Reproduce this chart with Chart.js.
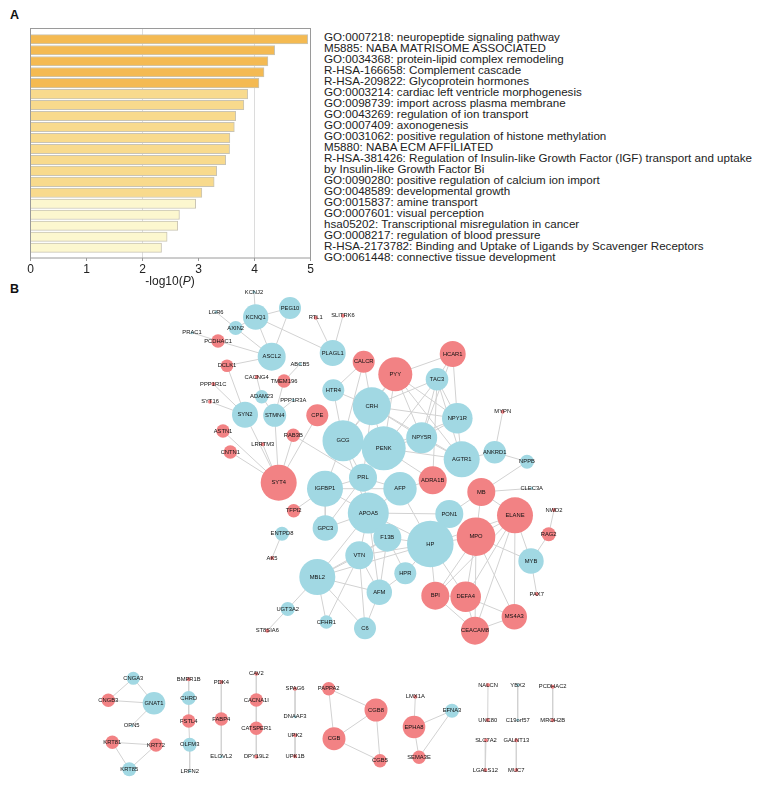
<!DOCTYPE html>
<html>
<head>
<meta charset="utf-8">
<title>Enrichment and network</title>
<script src="https://cdn.jsdelivr.net/npm/chart.js@4"></script>
<style>
html, body { margin: 0; padding: 0; background: #fff; }
body { position: relative; width: 767px; height: 792px; overflow: hidden; font-family: "Liberation Sans", Arial, sans-serif; color: #222; }
canvas { position: absolute; }
#barChart { left: 0; top: 0; }
#netChart { left: 0; top: 280px; }
.panel { position: absolute; left: 10px; font-weight: bold; font-size: 12.5px; color: #111; }
#terms { position: absolute; left: 324px; top: 30.7px; font-size: 11.6px; line-height: 11px; white-space: pre; color: #222; }
#xTitle { position: absolute; left: 110px; width: 120px; top: 274px; text-align: center; font-size: 12px; }
</style>
</head>
<body>
<div class="panel" style="top:8px">A</div>
<div class="panel" style="top:282px">B</div>
<canvas id="barChart" width="320" height="280"></canvas>
<div id="xTitle">-log10(<i>P</i>)</div>
<div id="terms"></div>
<canvas id="netChart" width="767" height="512"></canvas>
<script>
// panel A: enrichment terms
var terms = [
    'GO:0007218: neuropeptide signaling pathway',
    'M5885: NABA MATRISOME ASSOCIATED',
    'GO:0034368: protein-lipid complex remodeling',
    'R-HSA-166658: Complement cascade',
    'R-HSA-209822: Glycoprotein hormones',
    'GO:0003214: cardiac left ventricle morphogenesis',
    'GO:0098739: import across plasma membrane',
    'GO:0043269: regulation of ion transport',
    'GO:0007409: axonogenesis',
    'GO:0031062: positive regulation of histone methylation',
    'M5880: NABA ECM AFFILIATED',
    'R-HSA-381426: Regulation of Insulin-like Growth Factor (IGF) transport and uptake\nby Insulin-like Growth Factor Bi',
    'GO:0090280: positive regulation of calcium ion import',
    'GO:0048589: developmental growth',
    'GO:0015837: amine transport',
    'GO:0007601: visual perception',
    'hsa05202: Transcriptional misregulation in cancer',
    'GO:0008217: regulation of blood pressure',
    'R-HSA-2173782: Binding and Uptake of Ligands by Scavenger Receptors',
    'GO:0061448: connective tissue development'
];
var logP = [4.95, 4.36, 4.24, 4.17, 4.08, 3.88, 3.81, 3.665, 3.64, 3.56,
            3.555, 3.485, 3.325, 3.28, 3.06, 2.95, 2.66, 2.63, 2.44, 2.34];

// panel B: network nodes, in the same order in every list
var nodeNames = [
    'KCNJ2','KCNQ1','PEG10','LGR6','AXIN2','PRAC1','PCDHAC1','ASCL2','RTL1','SLITRK6','PLAGL1','DCLK1',
    'CACNG4','ABCB5','TMEM196','CALCR','PYY','HTR4','PPP1R1C','ADAM23','PPP1R3A','SYT16','SYN2','STMN4',
    'CPE','CRH','ASTN1','RAB3B','GCG','PENK','CNTN1','LRRTM3','SYT4','HCAR1','TAC3','NPY1R',
    'NPY5R','MYPN','ANKRD1','AGTR1','NPPB','ADRA1B','AFP','MB','CLEC3A','ELANE','PON1','NWD2',
    'IGFBP1','PRL','APOA5','TFPI2','GPC3','ENTPD8','F13B','HP','MPO','RAG2','AK5','VTN',
    'MYB','HPR','MBL2','PAX7','AFM','BPI','DEFA4','UGT3A2','MS4A3','CFHR1','C6','CEACAM8',
    'ST8SIA6','CNGA3','GNAT1','CNGB3','OPN5','KRT81','KRT72','KRT85','BMPR1B','CHRD','FSTL4','OLFM3',
    'LRFN2','PDK4','FABP4','ELOVL2','CAV2','CACNA1I','CATSPER1','DPY19L2','SPAG6','DNAAF3','UPK2','UPK1B',
    'PAPPA2','CGB8','CGB','CGB5','LMX1A','EFNA3','EPHA8','SEMA3E','NALCN','UNC80','YBX2','C19orf57',
    'PCDHAC2','MROH2B','SLC7A2','LGALS12','GALNT13','MUC7'
];
var nodeX = [
    254,255.7,290,216,235.7,192,218,271.7,315.7,343,332.7,227,
    256.7,300,284,363.7,395.3,333.3,213.3,261.7,293.3,210,245,274.7,
    317.3,371.7,223,293.3,343,383.7,230.3,262.7,278.7,452.7,437,457.3,
    421.7,502.7,494.7,461.7,527,432.7,400,481.3,531.7,515,449.3,554,
    325,363,368.3,293.7,325.3,282,387.3,430.3,476,548.7,272,359.3,
    531,405.3,317.3,536.7,379.3,435.3,465.7,287.7,514.3,326.3,365,475,
    267.3,133.3,154,108.3,131.7,112.3,156,129.3,188.7,188.7,188.7,189.7,
    189.7,221.3,221.3,221.3,256.3,256.3,256.3,256.3,295,295,295,295,
    328.7,376,334,380,415.3,452,414,419,488,487.7,517.7,517.7,
    552.7,552.7,486,485.3,516.3,516.3
];
var nodeY = [
    292,317,308,312,328,332.7,341,356.7,317.7,315.7,353,365.7,
    377,364,381,361.7,374.3,390.3,384,396.7,400,401.7,414.7,415.3,
    415.3,406.3,431,435.3,440.7,448.3,452,444.3,482.7,354,379.3,418.3,
    437.7,411.7,452.3,459.3,461.7,480.3,488.7,492,488.3,515.3,514,510,
    488.7,477.7,513,510.7,528,533.7,537.7,544,536.7,534.3,558,555.3,
    561,573.3,577,594,592.3,595.7,596.7,609,616.7,622,628.3,630.7,
    630.7,678.3,703.3,700.3,725.7,742.3,745,769.3,679.3,698,721,744.7,
    771.3,682,719,756.7,673.7,700,728.3,756.7,688.7,716.7,735.3,756.3,
    688.7,710,738.7,760.7,696.7,710.7,727,757.3,685,720,685,720,
    686.7,720.3,740.3,770,740.3,770
];
var nodeR = [
    1.5,12.7,11,1.5,7,1.5,6.7,14,2,2,13,6.3,
    2,1.5,6.7,11,17,11,2,6.7,1.5,2,13,11.5,
    11,19,6.7,6.7,20.5,22,6.7,2,18,13,11.3,15.3,
    15.5,2,11.3,18,7,14,16.7,14,1.5,18,14,2,
    18,14,20.5,6.7,12.7,7,14,23.3,19.3,7,2,14,
    12.7,11,18,2,12.7,14,15.3,7,12.7,6.7,11,14,
    2,6.5,11.3,6.7,1.5,6.7,6.7,7,2,7,6.7,7,
    1.5,2,6.7,1.5,2,6.7,6.7,2,2,1.5,2,2,
    6.7,11.5,11.5,6.7,2,7,11.3,6.7,2,2,1.5,1.5,
    2,2,2,2,2,2
];
// nodes of the red cluster type, all the others are blue
var redNodes = [
    'PCDHAC1','RTL1','SLITRK6','DCLK1','CACNG4','TMEM196','CALCR','PYY','PPP1R1C','SYT16','CPE','ASTN1',
    'RAB3B','CNTN1','LRRTM3','SYT4','HCAR1','MYPN','ADRA1B','MB','ELANE','NWD2','TFPI2','MPO','RAG2','AK5',
    'PAX7','BPI','DEFA4','MS4A3','CEACAM8','ST8SIA6','CNGB3','KRT81','KRT72','BMPR1B','FSTL4','PDK4','FABP4',
    'CAV2','CACNA1I','CATSPER1','DPY19L2','SPAG6','UPK2','UPK1B','PAPPA2','CGB8','CGB','CGB5','LMX1A','EPHA8',
    'SEMA3E','NALCN','UNC80','PCDHAC2','MROH2B','SLC7A2','LGALS12','GALNT13','MUC7'
];
var edges = [
    ['KCNJ2','KCNQ1'],['KCNQ1','PEG10'],['KCNQ1','AXIN2'],['AXIN2','LGR6'],['AXIN2','ASCL2'],['KCNQ1','ASCL2'],
    ['PEG10','ASCL2'],['KCNQ1','PLAGL1'],['PLAGL1','RTL1'],['PLAGL1','SLITRK6'],['PCDHAC1','ASCL2'],['PRAC1','PCDHAC1'],
    ['DCLK1','ASCL2'],['DCLK1','SYN2'],['TMEM196','ABCB5'],['TMEM196','STMN4'],['CACNG4','ADAM23'],['ADAM23','STMN4'],
    ['PPP1R1C','SYN2'],['SYT16','SYN2'],['STMN4','PPP1R3A'],['SYN2','SYT4'],['STMN4','SYT4'],['ASTN1','SYT4'],
    ['CNTN1','SYT4'],['LRRTM3','SYT4'],['RAB3B','SYT4'],['CPE','SYT4'],['RAB3B','PRL'],
    ['CALCR','HTR4'],['CALCR','CRH'],['CALCR','GCG'],['HTR4','CRH'],['HTR4','GCG'],['PYY','CRH'],['PYY','HCAR1'],
    ['PYY','NPY1R'],['PYY','NPY5R'],['PYY','AGTR1'],['PYY','GCG'],['PYY','PENK'],['HCAR1','TAC3'],['HCAR1','NPY1R'],
    ['HCAR1','NPY5R'],['TAC3','CRH'],['TAC3','PENK'],['TAC3','NPY1R'],['TAC3','AGTR1'],['TAC3','NPY5R'],['TAC3','ADRA1B'],
    ['CRH','NPY1R'],['CRH','GCG'],['CRH','PENK'],['CRH','NPY5R'],['CRH','AGTR1'],['CRH','PRL'],['GCG','PENK'],
    ['GCG','IGFBP1'],['GCG','PRL'],['GCG','APOA5'],['PENK','NPY5R'],['PENK','NPY1R'],['PENK','AGTR1'],['PENK','ADRA1B'],
    ['PENK','PRL'],['NPY5R','NPY1R'],['NPY5R','AGTR1'],['NPY1R','AGTR1'],['AGTR1','ANKRD1'],['ANKRD1','MYPN'],
    ['ANKRD1','NPPB'],['NPPB','MB'],['ADRA1B','AFP'],['IGFBP1','PRL'],['IGFBP1','AFP'],['IGFBP1','APOA5'],['IGFBP1','GPC3'],
    ['IGFBP1','TFPI2'],['PRL','AFP'],['PRL','APOA5'],['AFP','APOA5'],['AFP','HP'],['APOA5','PON1'],['APOA5','HP'],
    ['APOA5','F13B'],['APOA5','VTN'],['APOA5','GPC3'],['APOA5','AFM'],['PRL','GPC3'],['APOA5','MBL2'],['F13B','HP'],
    ['F13B','VTN'],['F13B','AFM'],['F13B','HPR'],['VTN','HP'],['VTN','MBL2'],['VTN','AFM'],['VTN','C6'],['VTN','CFHR1'],
    ['MBL2','HP'],['MBL2','AFM'],['MBL2','C6'],['MBL2','CFHR1'],['MBL2','UGT3A2'],['MBL2','F13B'],['UGT3A2','ST8SIA6'],
    ['ENTPD8','AK5'],['AFM','C6'],['HP','HPR'],['HPR','AFM'],['HP','PON1'],['HP','MPO'],['HP','BPI'],['PON1','MB'],
    ['MB','MPO'],['MB','ELANE'],['MB','CLEC3A'],['MPO','ELANE'],['MPO','MYB'],['MPO','BPI'],['MPO','DEFA4'],
    ['MPO','CEACAM8'],['MPO','MS4A3'],['ELANE','BPI'],['ELANE','DEFA4'],['ELANE','MYB'],['ELANE','CEACAM8'],
    ['ELANE','MS4A3'],['ELANE','HP'],['BPI','DEFA4'],['BPI','CEACAM8'],['DEFA4','CEACAM8'],['DEFA4','MS4A3'],
    ['CEACAM8','MS4A3'],['MYB','RAG2'],['MYB','PAX7'],['RAG2','NWD2'],['HP','DEFA4'],
    ['CNGA3','GNAT1'],['CNGA3','CNGB3'],['CNGB3','GNAT1'],['GNAT1','OPN5'],['KRT81','KRT72'],['KRT81','KRT85'],
    ['KRT72','KRT85'],['BMPR1B','CHRD'],['CHRD','FSTL4'],['FSTL4','OLFM3'],['OLFM3','LRFN2'],['PDK4','FABP4'],
    ['FABP4','ELOVL2'],['CAV2','CACNA1I'],['CACNA1I','CATSPER1'],['CATSPER1','DPY19L2'],['SPAG6','DNAAF3'],['UPK2','UPK1B'],
    ['PAPPA2','CGB8'],['PAPPA2','CGB'],['CGB8','CGB'],['CGB8','CGB5'],['CGB','CGB5'],['LMX1A','EPHA8'],['EPHA8','EFNA3'],
    ['EPHA8','SEMA3E'],['EFNA3','SEMA3E'],['NALCN','UNC80'],['YBX2','C19orf57'],['PCDHAC2','MROH2B'],['SLC7A2','LGALS12'],
    ['GALNT13','MUC7']
];

document.getElementById('terms').textContent = terms.join('\n');

function barColor(v) {
    if (v >= 4) return '#f4ba52';
    if (v >= 3) return '#f8da8d';
    return '#fcf7cf';
}

// box round the bars
var framePlugin = {
    id: 'frame',
    afterDraw: function (chart) {
        var a = chart.chartArea, c = chart.ctx;
        c.save();
        c.strokeStyle = '#9a9a9a';
        c.lineWidth = 1;
        c.strokeRect(a.left, a.top, a.right - a.left, a.bottom - a.top);
        c.restore();
    }
};

new Chart(document.getElementById('barChart').getContext('2d'), {
    type: 'bar',
    data: {
        datasets: [{
            data: logP.map(function (v, i) { return {x: v, y: i}; }),
            backgroundColor: logP.map(barColor),
            borderColor: '#c9c4b4',
            borderWidth: 1,
            barThickness: 9.4
        }]
    },
    options: {
        indexAxis: 'y',
        responsive: false,
        animation: false,
        layout: {padding: {left: 30.5, top: 28.5, right: 9.5, bottom: 0}},
        plugins: {legend: {display: false}, title: {display: false}, tooltip: {enabled: false}},
        scales: {
            x: {
                type: 'linear',
                min: 0,
                max: 5,
                offset: false,
                afterFit: function (s) { s.height = 22; },
                ticks: {stepSize: 1, color: '#222', font: {size: 12, family: 'Liberation Sans'}, maxRotation: 0, padding: 1},
                grid: {
                    color: function (c) { return c.tick.value % 2 === 0 && c.tick.value > 0 ? '#dcdcdc' : 'rgba(0,0,0,0)'; },
                    tickColor: '#9a9a9a',
                    tickLength: 3
                },
                border: {display: false}
            },
            y: {type: 'linear', reverse: true, min: -0.98, max: 19.94, offset: false, display: false}
        }
    },
    plugins: [framePlugin]
});

// gene name on top of each node
var nodeLabels = {
    id: 'nodeLabels',
    afterDatasetsDraw: function (chart) {
        var c = chart.ctx;
        c.save();
        c.font = '5.8px "Liberation Sans"';
        c.fillStyle = '#111';
        c.textAlign = 'center';
        c.textBaseline = 'middle';
        nodeNames.forEach(function (n, i) {
            c.fillText(n, chart.scales.x.getPixelForValue(nodeX[i]), chart.scales.y.getPixelForValue(nodeY[i]));
        });
        c.restore();
    }
};

var edgeSets = edges.map(function (e) {
    var a = nodeNames.indexOf(e[0]), b = nodeNames.indexOf(e[1]);
    return {
        type: 'line',
        data: [{x: nodeX[a], y: nodeY[a]}, {x: nodeX[b], y: nodeY[b]}],
        borderColor: '#d2d2d2',
        borderWidth: 1,
        pointRadius: 0,
        order: 2
    };
});

new Chart(document.getElementById('netChart').getContext('2d'), {
    type: 'bubble',
    data: {
        datasets: edgeSets.concat([{
            type: 'bubble',
            data: nodeNames.map(function (n, i) { return {x: nodeX[i], y: nodeY[i], r: nodeR[i]}; }),
            backgroundColor: nodeNames.map(function (n) { return redNodes.indexOf(n) >= 0 ? '#f28284' : '#a1d8e3'; }),
            borderWidth: 0,
            order: 1
        }])
    },
    options: {
        responsive: false,
        animation: false,
        layout: {padding: 0, autoPadding: false},
        plugins: {legend: {display: false}, tooltip: {enabled: false}},
        scales: {
            x: {type: 'linear', min: 0, max: 767, offset: false, display: false},
            y: {type: 'linear', min: 280, max: 792, offset: false, reverse: true, display: false}
        }
    },
    plugins: [nodeLabels]
});
</script>
</body>
</html>
